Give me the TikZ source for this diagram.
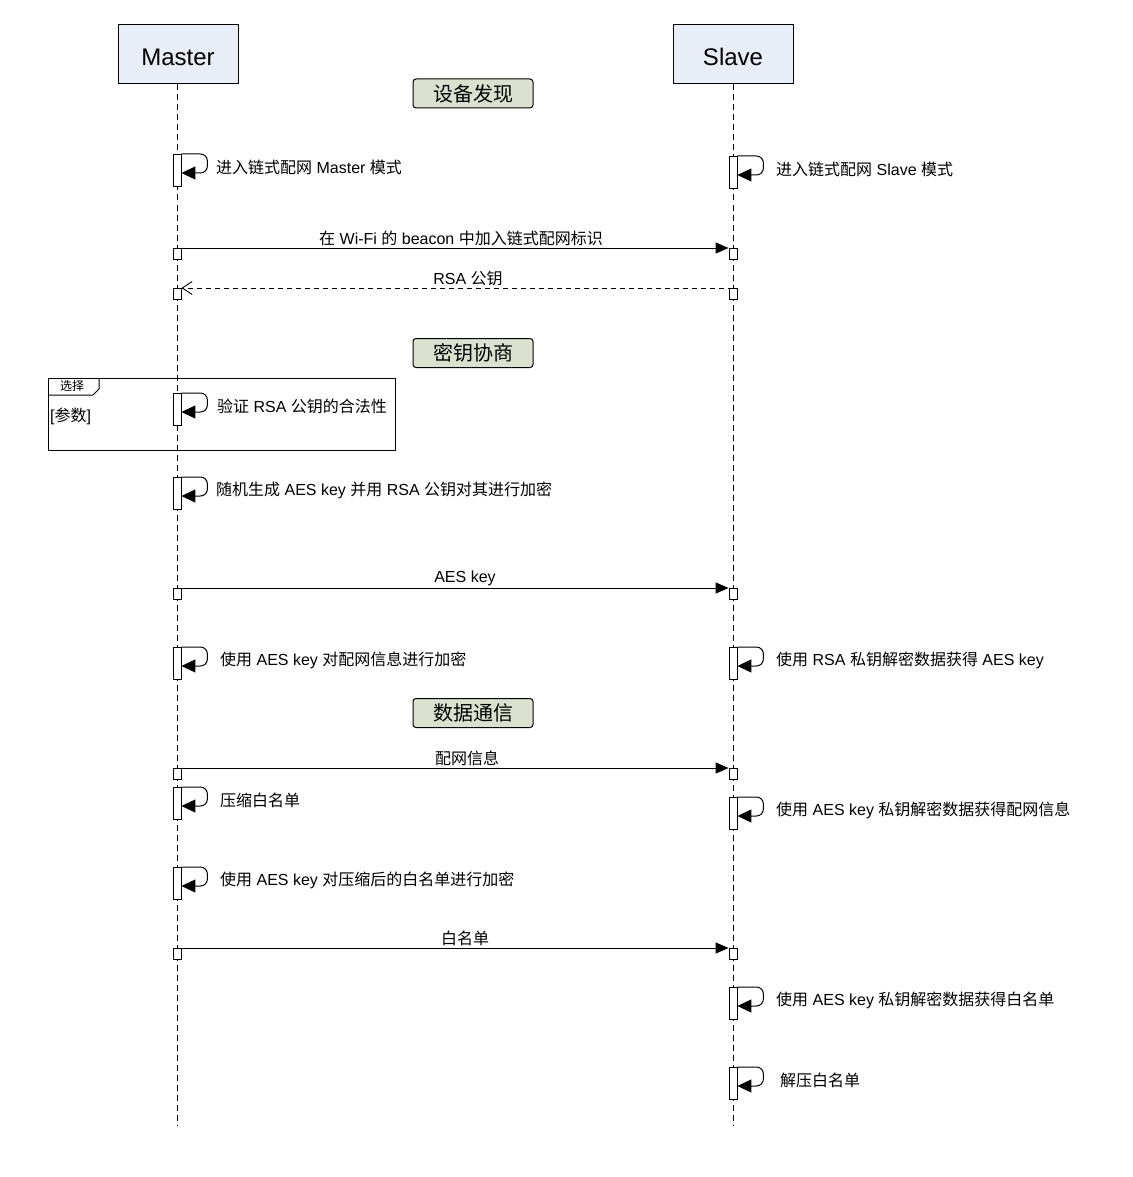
\documentclass[tikz,border=0pt]{standalone}
\usepackage{fontspec}
\setmainfont{Liberation Sans}
\newfontfamily\cjk{Noto Sans CJK SC}
\usetikzlibrary{arrows.meta}
\newcommand\zh[1]{{\cjk #1}}
\definecolor{headblue}{RGB}{232,238,248}
\definecolor{sectgreen}{RGB}{220,225,207}
\newcommand\selfcall[5]{%
  \node[act, anchor=north] (#1) at (#2,#3) {};
  \draw[selfarrow] (#1.north east) -- ++(26,0) -- ++(0,19) -- ++(-26,0);
  \node[lbl, anchor=west] (#1t) at (#4,#3+13) {#5};
}
\newcommand\msgcall[4]{%
  \node[sq, anchor=north] (#1s) at (177,#2) {};
  \node[sq, anchor=north] (#1e) at (733,#2) {};
  \draw[msgarrow] (#1s.north west) -- (#1e.north west);
  \node[lbl] (#1l) at (#3,#2-10) {#4};
}
\begin{document}
\begin{tikzpicture}[x=1pt,y=-1pt,
  lifeline/.style={line width=0.8pt, dash pattern=on 6pt off 4pt},
  head/.style={draw, line width=1pt, fill=headblue, minimum width=120pt, minimum height=59pt, inner sep=0pt, text height=23pt, text depth=0pt, font=\fontsize{24}{28}\selectfont},
  sect/.style={draw, line width=1pt, fill=sectgreen, rounded corners=3pt, minimum width=120pt, minimum height=29pt, inner sep=0pt, font=\fontsize{20}{24}\selectfont},
  act/.style={draw, fill=white, line width=0.8pt, minimum width=8pt, minimum height=32pt, inner sep=0pt},
  sq/.style={draw, fill=white, line width=0.8pt, minimum width=8pt, minimum height=11pt, inner sep=0pt},
  lbl/.style={inner sep=0pt, font=\fontsize{16}{19}\selectfont},
  selfarrow/.style={line width=1pt, rounded corners=7pt, -{Triangle[length=14pt,width=13pt]}},
  msgarrow/.style={line width=0.9pt, -{Triangle[length=13pt,width=11pt]}},
  retarrow/.style={line width=0.9pt, dash pattern=on 5pt off 4pt, -{Straight Barb[length=10pt,width=13pt,line width=0.9pt]}},
  frame/.style={draw, line width=1pt}
]
\fill[white] (0,0) rectangle (1132,1177);
\useasboundingbox (0,0) rectangle (1132,1177);

% heads
\node[head] (master) at (178,54.5) {Master};
\node[head] (slave) at (733,54.5) {Slave};
\coordinate (mend) at (177,1125);
\coordinate (send) at (733,1125);
\draw[lifeline] (master.south -| mend) -- (mend);
\draw[lifeline] (slave.south -| send) -- (send);

% sections
\node[sect] (sec1) at (473,93.5) {\zh{设备发现}};
\node[sect] (sec2) at (473,353) {\zh{密钥协商}};
\node[sect] (sec3) at (473,713) {\zh{数据通信}};

% alt frame
\draw[frame] (48,378) rectangle (395,450);
\draw[frame] (48,395) -- (93,395) -- (99,389) -- (99,378);
\node[inner sep=0pt, font=\fontsize{12}{14}\selectfont] (fraTag) at (72,386) {\zh{选择}};
\node[lbl, anchor=west] (fraCond) at (50,416) {[\zh{参数}]};

% self calls
\selfcall{ma1}{177}{154}{216}{\zh{进入链式配网} Master \zh{模式}}
\selfcall{sa1}{733}{156}{776}{\zh{进入链式配网} Slave \zh{模式}}

% messages
\msgcall{m1}{248}{461}{\zh{在} Wi-Fi \zh{的} beacon \zh{中加入链式配网标识}}
\node[sq, anchor=north] (r1s) at (177,288) {};
\node[sq, anchor=north] (r1e) at (733,288) {};
\draw[retarrow] (r1e.north) -- (r1s.north east);
\node[lbl] (r1l) at (468,278) {RSA \zh{公钥}};

\selfcall{ma2}{177}{393}{217}{\zh{验证} RSA \zh{公钥的合法性}}
\selfcall{ma3}{177}{477}{216}{\zh{随机生成} AES key \zh{并用} RSA \zh{公钥对其进行加密}}

\msgcall{m2}{588}{465}{AES key}

\selfcall{ma4}{177}{647}{220}{\zh{使用} AES key \zh{对配网信息进行加密}}
\selfcall{sa2}{733}{647}{776}{\zh{使用} RSA \zh{私钥解密数据获得} AES key}

\msgcall{m3}{768}{467}{\zh{配网信息}}

\selfcall{ma5}{177}{787}{220}{\zh{压缩白名单}}
\selfcall{sa3}{733}{797}{776}{\zh{使用} AES key \zh{私钥解密数据获得配网信息}}

\selfcall{ma6}{177}{867}{220}{\zh{使用} AES key \zh{对压缩后的白名单进行加密}}

\msgcall{m4}{948}{465}{\zh{白名单}}

\selfcall{sa4}{733}{987}{776}{\zh{使用} AES key \zh{私钥解密数据获得白名单}}
\selfcall{sa5}{733}{1067}{780}{\zh{解压白名单}}
\end{tikzpicture}
\end{document}
